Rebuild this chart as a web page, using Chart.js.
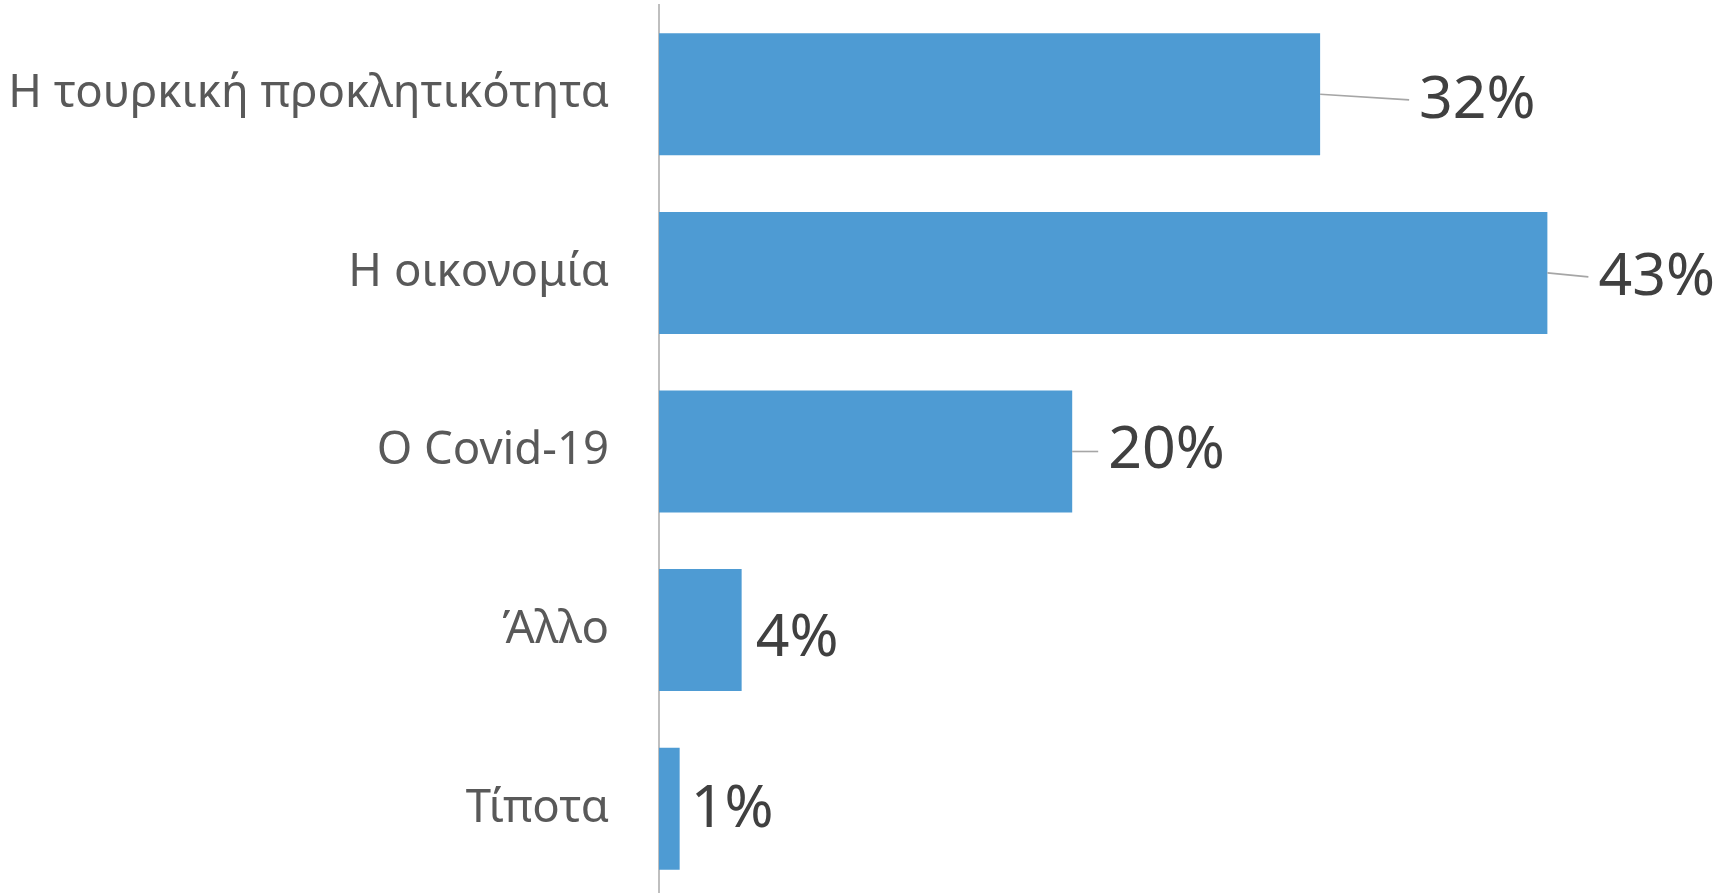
<!DOCTYPE html>
<html>
<head>
<meta charset="utf-8">
<script src="https://cdn.jsdelivr.net/npm/chart.js@4.4.1/dist/chart.umd.min.js"></script>
<style>
  html, body { margin: 0; padding: 0; background: #ffffff; overflow: hidden; }
  #wrap { width: 1729px; height: 898px; position: relative; }
</style>
</head>
<body>
<div id="wrap"><canvas id="c" width="1729" height="898"></canvas></div>
<script>
const categories = ['Η τουρκική προκλητικότητα', 'Η οικονομία', 'Ο Covid-19', 'Άλλο', 'Τίποτα'];
const values = [32, 43, 20, 4, 1];
const valueLabels = ['32%', '43%', '20%', '4%', '1%'];
// label placement (style): offset of label start from bar end, vertical shift, leader line?
const labelGap = [99, 51, 36, 14, 11];
const labelShift = [7, 5, 0, 9, 1];
const leader = [true, true, true, false, false];

const FONT = "'Noto Sans', 'Open Sans', sans-serif";

const dataLabelPlugin = {
  id: 'dataLabels',
  afterDatasetsDraw(chart) {
    const ctx = chart.ctx;
    const meta = chart.getDatasetMeta(0);
    ctx.save();
    meta.data.forEach((bar, i) => {
      const xEnd = bar.x;
      const yc = bar.y;
      const lx = xEnd + labelGap[i];
      const ly = yc + labelShift[i];
      if (leader[i]) {
        ctx.strokeStyle = '#a6a6a6';
        ctx.lineWidth = 1.6;
        ctx.beginPath();
        ctx.moveTo(xEnd, yc);
        ctx.lineTo(lx - 10, yc + Math.max(labelShift[i], 0) * 0.8);
        ctx.stroke();
      }
      ctx.fillStyle = '#404040';
      ctx.font = '59px ' + FONT;
      ctx.textAlign = 'left';
      ctx.textBaseline = 'middle';
      ctx.fillText(valueLabels[i], lx, ly);
    });
    ctx.restore();
  }
};

new Chart(document.getElementById('c'), {
  type: 'bar',
  data: {
    labels: categories,
    datasets: [{
      data: values,
      backgroundColor: '#4e9bd3',
      borderWidth: 0,
      barPercentage: 0.683,
      categoryPercentage: 1.0
    }]
  },
  options: {
    indexAxis: 'y',
    responsive: false,
    animation: false,
    layout: { padding: { top: 5, right: 37, bottom: 0, left: 0 } },
    plugins: { legend: { display: false }, tooltip: { enabled: false } },
    scales: {
      x: { display: false, min: 0, max: 50 },
      y: {
        afterFit(scale) { scale.width = 659; scale.paddingTop = 0; scale.paddingBottom = 0; },
        grid: { display: false, drawTicks: false },
        border: { display: true, color: '#bfbfbf', width: 2 },
        ticks: {
          padding: 50,
          color: '#595959',
          font: { family: FONT, size: 45.5 }
        }
      }
    }
  },
  plugins: [dataLabelPlugin]
});
</script>
</body>
</html>
